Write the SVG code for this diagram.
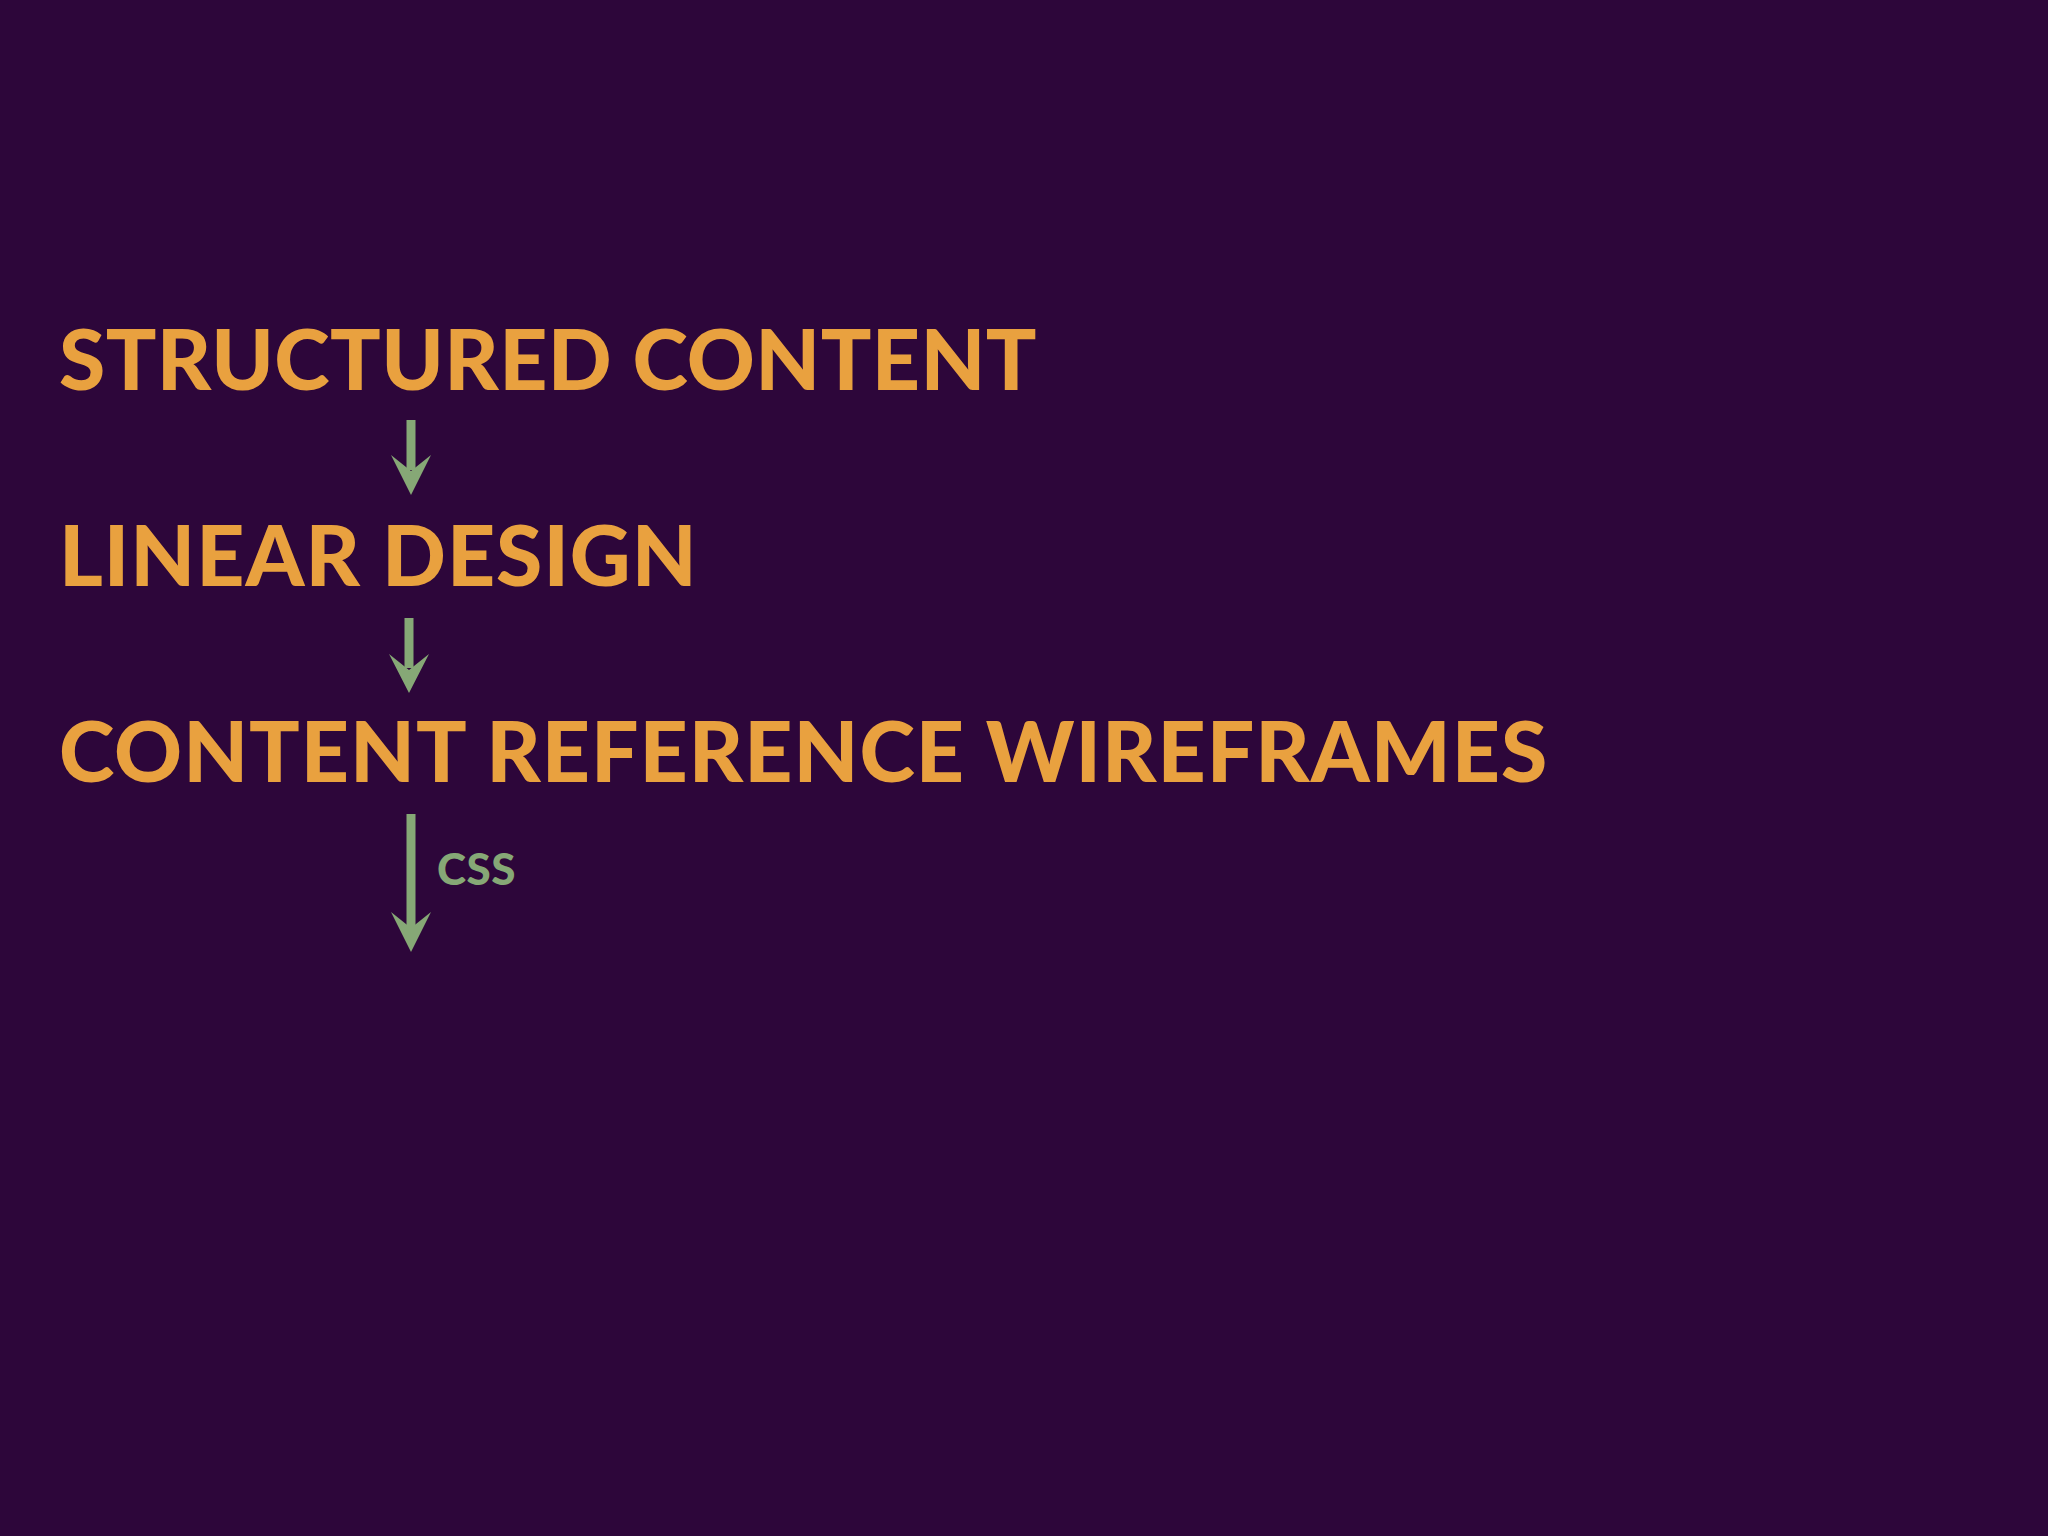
<svg xmlns="http://www.w3.org/2000/svg" width="2048" height="1536" viewBox="0 0 2048 1536">
<style>
.t{font-family:Lato,"Open Sans","Liberation Sans",sans-serif;font-weight:900;fill:#e9a13f;font-size:84px;letter-spacing:1px}
.l{font-family:Lato,"Open Sans","Liberation Sans",sans-serif;font-weight:900;fill:#86a876;font-size:44px;letter-spacing:0.5px}
.s{stroke:#86a876;stroke-width:9;fill:none}
.h{fill:#86a876}
</style>
<rect width="2048" height="1536" fill="#2d063a"/>
<g id="n1"><text class="t" x="59" y="390" style="letter-spacing:0.4px">STRUCTURED CONTENT</text></g>
<g id="n2"><text class="t" x="59" y="586">LINEAR DESIGN</text></g>
<g id="n3"><text class="t" x="59" y="782">CONTENT REFERENCE WIREFRAMES</text></g>
<g id="connectors">
<line class="s" x1="411" y1="420" x2="411" y2="470"/>
<path class="h" d="M391,455 L411,495 L431,455 L411,471 Z"/>
<line class="s" x1="409" y1="618" x2="409" y2="668"/>
<path class="h" d="M389,654 L409,693 L429,654 L409,670 Z"/>
<line class="s" x1="411" y1="814" x2="411" y2="928"/>
<path class="h" d="M391,912 L411,952 L431,912 L411,928 Z"/>
<text class="l" x="437" y="885">CSS</text>
</g>
</svg>
